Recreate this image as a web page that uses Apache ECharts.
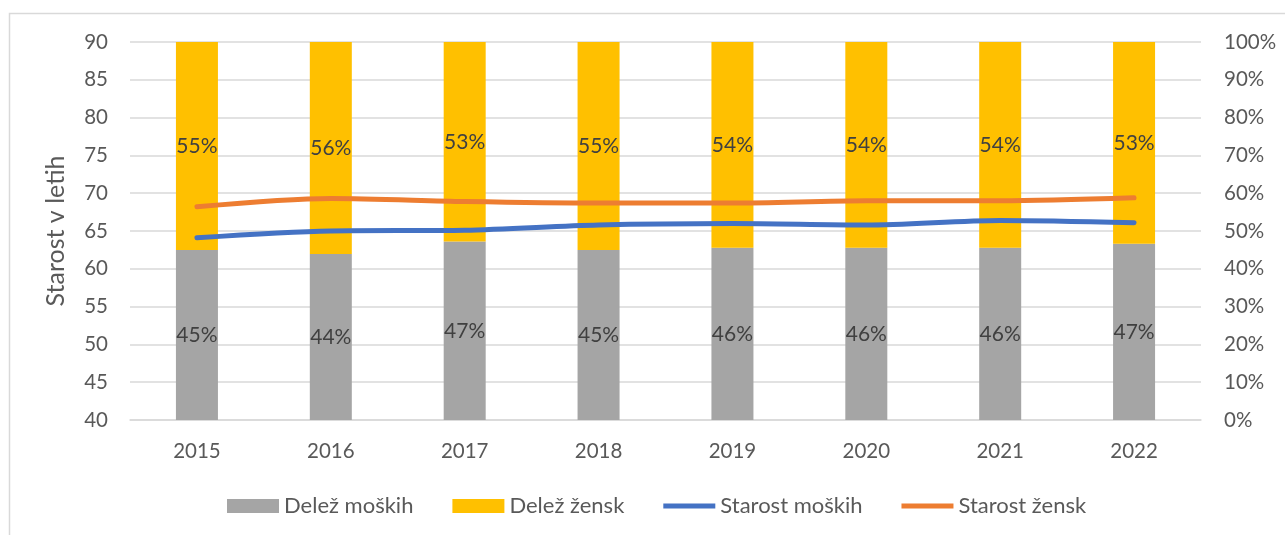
<!DOCTYPE html>
<html>
<head>
<meta charset="utf-8">
<script src="https://cdn.jsdelivr.net/npm/echarts@6/dist/echarts.min.js"></script>
<style>
  html, body { margin: 0; padding: 0; background: #fff; }
  #chart { width: 1285px; height: 535px; }
</style>
</head>
<body>
<div id="chart"></div>
<script>
var years = ['2015', '2016', '2017', '2018', '2019', '2020', '2021', '2022'];
// share of men / women in percent (right axis)
var shareMen = [45.0, 43.9, 47.2, 45.0, 45.6, 45.6, 45.6, 46.6];
var shareWomen = [55.0, 56.1, 52.8, 55.0, 54.4, 54.4, 54.4, 53.4];
// age in years (left axis)
var ageMen = [64.1, 65.0, 65.1, 65.8, 66.0, 65.8, 66.4, 66.1];
var ageWomen = [68.2, 69.3, 68.9, 68.7, 68.7, 69.0, 69.0, 69.4];

var FONT = 'Lato';
var gridColor = '#D9D9D9';
var textColor = '#595959';
var lineIcon = 'path://M0,0 L52,0 L52,5 L0,5 Z';

var myChart = echarts.init(document.getElementById('chart'));

var barLabel = {
    show: true,
    position: 'inside',
    color: '#404040',
    fontFamily: FONT,
    fontSize: 21,
    formatter: function (p) { return Math.round(p.value) + '%'; }
};

myChart.setOption({
    animation: false,
    textStyle: { fontFamily: FONT },
    graphic: [{
        type: 'rect',
        shape: { x: 9.5, y: 13.5, width: 1300, height: 600 },
        style: { fill: 'none', stroke: '#D9D9D9', lineWidth: 1.5 },
        silent: true,
        z: -10
    }],
    grid: { left: 130, right: 84, top: 42, bottom: 115 },
    legend: {
        top: 490,
        left: 222,
        itemWidth: 52,
        itemHeight: 14,
        itemGap: 39,
        textStyle: { color: textColor, fontSize: 22, fontFamily: FONT },
        data: [
            { name: 'Delež moških', icon: 'rect' },
            { name: 'Delež žensk', icon: 'rect' },
            { name: 'Starost moških', icon: lineIcon },
            { name: 'Starost žensk', icon: lineIcon }
        ]
    },
    xAxis: [{
        type: 'category',
        data: years,
        axisTick: { show: false },
        axisLine: { lineStyle: { color: gridColor, width: 1.5 } },
        axisLabel: { color: textColor, fontSize: 20.5, margin: 21, fontFamily: FONT }
    }],
    yAxis: [{
        type: 'value',
        min: 40,
        max: 90,
        interval: 5,
        name: 'Starost v letih',
        nameLocation: 'middle',
        nameGap: 62,
        nameTextStyle: { color: textColor, fontSize: 25, fontFamily: FONT },
        axisLine: { show: false },
        axisTick: { show: false },
        axisLabel: { color: textColor, fontSize: 20.5, margin: 22, fontFamily: FONT },
        splitLine: { lineStyle: { color: gridColor, width: 1.5 } }
    }, {
        type: 'value',
        min: 0,
        max: 100,
        interval: 10,
        axisLine: { show: false },
        axisTick: { show: false },
        axisLabel: { color: textColor, fontSize: 20.5, margin: 23, fontFamily: FONT, formatter: '{value}%' },
        splitLine: { show: false }
    }],
    series: [{
        name: 'Delež moških',
        type: 'bar',
        stack: 'share',
        yAxisIndex: 1,
        barWidth: 42,
        itemStyle: { color: '#A5A5A5' },
        label: barLabel,
        data: shareMen
    }, {
        name: 'Delež žensk',
        type: 'bar',
        stack: 'share',
        yAxisIndex: 1,
        barWidth: 42,
        itemStyle: { color: '#FFC000' },
        label: barLabel,
        data: shareWomen
    }, {
        name: 'Starost moških',
        type: 'line',
        yAxisIndex: 0,
        smooth: 0.3,
        symbol: 'none',
        z: 5,
        lineStyle: { color: '#4472C4', width: 5, cap: 'round' },
        itemStyle: { color: '#4472C4' },
        data: ageMen
    }, {
        name: 'Starost žensk',
        type: 'line',
        yAxisIndex: 0,
        smooth: 0.3,
        symbol: 'none',
        z: 5,
        lineStyle: { color: '#ED7D31', width: 5, cap: 'round' },
        itemStyle: { color: '#ED7D31' },
        data: ageWomen
    }]
});
</script>
</body>
</html>
